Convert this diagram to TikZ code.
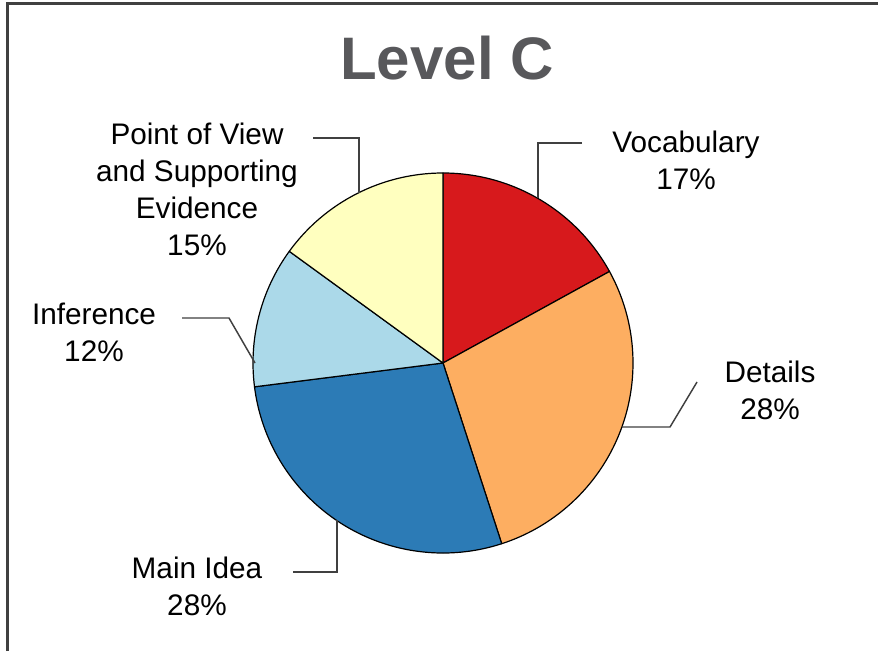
\documentclass[tikz,border=0pt]{standalone}
\usepackage{fontspec}
\setmainfont{Liberation Sans}
\definecolor{cvoc}{HTML}{D7191C}
\definecolor{cdet}{HTML}{FDAE61}
\definecolor{cmain}{HTML}{2C7BB6}
\definecolor{cinf}{HTML}{ABD9E9}
\definecolor{cpov}{HTML}{FFFFBF}
\definecolor{ctitle}{HTML}{58585B}
\definecolor{cline}{HTML}{404040}
\begin{document}
\begin{tikzpicture}[x=0.75pt,y=0.75pt,
  lbl/.style={align=center,font=\fontsize{22.3pt}{27.75pt}\selectfont,inner sep=0pt},
  lead/.style={draw=cline,line width=1.1pt},
  slice/.style={draw=black,line width=0.9pt,line join=round}]
\useasboundingbox (0,0) rectangle (878,651);
\fill[white] (0,0) rectangle (878,651);
\draw[cline,line width=1.6pt] (7.5,0) -- (7.5,647.5) -- (878,647.5);
\node[font=\bfseries\fontsize{45pt}{50pt}\selectfont,text=ctitle,anchor=base,inner sep=0pt] (title) at (447,571) {Level C};
\coordinate (c) at (443,288);
\def\R{142.5pt}
\filldraw[slice,fill=cvoc] (c) -- ++(90:190) arc[start angle=90,end angle=28.8,radius=\R] -- cycle;
\filldraw[slice,fill=cdet] (c) -- ++(28.8:190) arc[start angle=28.8,end angle=-72,radius=\R] -- cycle;
\filldraw[slice,fill=cmain] (c) -- ++(-72:190) arc[start angle=-72,end angle=-172.8,radius=\R] -- cycle;
\filldraw[slice,fill=cinf] (c) -- ++(-172.8:190) arc[start angle=-172.8,end angle=-216,radius=\R] -- cycle;
\filldraw[slice,fill=cpov] (c) -- ++(-216:190) arc[start angle=-216,end angle=-270,radius=\R] -- cycle;
\node[lbl] (pov) at (197,462) {Point of View\\and Supporting\\Evidence\\15\%};
\node[lbl] (voc) at (686,491) {Vocabulary\\17\%};
\node[lbl] (inf) at (94,319) {Inference\\12\%};
\node[lbl] (det) at (770,261) {Details\\28\%};
\node[lbl] (main) at (197,65) {Main Idea\\28\%};
\coordinate (povA) at (313,513); \coordinate (povB) at (359,513); \coordinate (povC) at (359,458);
\coordinate (vocA) at (582,508); \coordinate (vocB) at (538,508); \coordinate (vocC) at (538,453);
\coordinate (infA) at (182,333); \coordinate (infB) at (229,333); \coordinate (infC) at (255,288);
\coordinate (detA) at (622,224); \coordinate (detB) at (670,224); \coordinate (detC) at (697,269);
\coordinate (mainA) at (293,79); \coordinate (mainB) at (337,79); \coordinate (mainC) at (337,131);
\draw[lead] (povA) -- (povB) -- (povC);
\draw[lead] (vocA) -- (vocB) -- (vocC);
\draw[lead] (infA) -- (infB) -- (infC);
\draw[lead] (detA) -- (detB) -- (detC);
\draw[lead] (mainA) -- (mainB) -- (mainC);
\end{tikzpicture}
\end{document}
